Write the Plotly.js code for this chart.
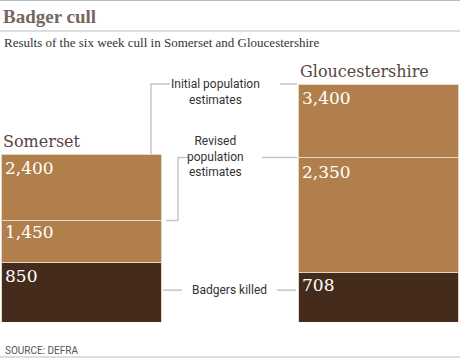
<!DOCTYPE html>
<html>
<head>
<meta charset="utf-8">
<script src="https://cdn.plot.ly/plotly-3.0.1.min.js"></script>
<style>html,body{margin:0;padding:0;background:#fff}#chart{width:460px;height:360px}</style>
</head>
<body>
<div id="chart"></div>
<script>
// ---- data ----
const regions = ["Somerset", "Gloucestershire"];
const killed = [850, 708];
const revised = [1450, 2350];
const initial = [2400, 3400];
const valueLabels = {killed: ["850", "708"], revised: ["1,450", "2,350"], initial: ["2,400", "3,400"]};
const seriesNames = ["Badgers killed", "Revised population estimates", "Initial population estimates"];

// ---- styles ----
const brown = "#b07f4c";
const dark = "#452b1c";
const edge = "#e6d6c4";
const lineGrey = "#c6c6c6";
const W = 460, plotTop = 50, plotBottom = 322;
const H = 360;
const barW = 0.542;

const segRevised = revised.map((v, i) => v - killed[i]);
const segInitial = initial.map((v, i) => v - revised[i]);

const xs = [0, 1];
function bar(y, color, name) {
  return {type: "bar", x: xs, y: y, width: barW, name: name,
    marker: {color: color, line: {color: edge, width: 1}}, hoverinfo: "skip"};
}
const traces = [
  bar(killed, dark, seriesNames[0]),
  bar(segRevised, brown, seriesNames[1]),
  bar(segInitial, brown, seriesNames[2])
];

const ann = [];
// value labels inside bars
function valAnn(i, yv, txt, ys) {
  ann.push({x: xs[i] - barW / 2, y: yv, xref: "x", yref: "y", text: txt, showarrow: false,
    xanchor: "left", yanchor: "top", xshift: 2, yshift: ys,
    font: {family: "DejaVu Serif", size: 17, color: "#ffffff"}});
}
for (let i = 0; i < 2; i++) {
  valAnn(i, initial[i], valueLabels.initial[i], -2);
  valAnn(i, revised[i], valueLabels.revised[i], i === 0 ? 1 : -2);
  valAnn(i, killed[i], valueLabels.killed[i], -1);
  ann.push({x: xs[i] - barW / 2, y: initial[i], xref: "x", yref: "y", text: regions[i], showarrow: false,
    xanchor: "left", yanchor: "bottom", xshift: 0, yshift: 1,
    font: {family: "DejaVu Serif", size: 16, color: "#56463d"}});
}
// series labels in the middle
const labFont = {family: "Roboto", size: 12, color: "#333333"};
ann.push({x: 215 / W, y: initial[1], xref: "paper", yref: "y", text: "Initial population<br>estimates",
  showarrow: false, xanchor: "center", yanchor: "top", yshift: 9, font: labFont});
ann.push({x: 215 / W, y: revised[1], xref: "paper", yref: "y", text: "Revised<br>population<br>estimates",
  showarrow: false, xanchor: "center", yanchor: "middle", yshift: 1, font: labFont});
const killedLabelY = 455;
ann.push({x: 229 / W, y: killedLabelY, xref: "paper", yref: "y", text: "Badgers killed",
  showarrow: false, xanchor: "center", yanchor: "middle", font: labFont});
// subtitle & source
ann.push({x: 2 / W, y: (plotBottom - 42) / (plotBottom - plotTop), xref: "paper", yref: "paper",
  text: "Results of the six week cull in Somerset and Gloucestershire", showarrow: false,
  xanchor: "left", yanchor: "middle", font: {family: "Liberation Serif", size: 13, color: "#333333"}});
ann.push({x: 3 / W, y: (plotBottom - 350) / (plotBottom - plotTop), xref: "paper", yref: "paper",
  text: "SOURCE: DEFRA", showarrow: false, xanchor: "left", yanchor: "middle",
  font: {family: "Roboto", size: 10, color: "#555555"}});

const ph = plotBottom - plotTop;
function py(p) { return (plotBottom - p) / ph; }
const shapes = [];
function ln(x0, y0, x1, y1, yref, col, w) {
  shapes.push({type: "line", xref: "paper", yref: yref, x0: x0 / W, x1: x1 / W, y0: y0, y1: y1,
    line: {color: col, width: w}});
}
// rules
ln(0, py(0.5), 460, py(0.5), "paper", "#bdbdbd", 1);
ln(0, py(31), 460, py(31), "paper", "#bdbdbd", 1);
ln(0, py(357), 460, py(357), "paper", "#bdbdbd", 1);
// connectors: initial
ln(151, initial[0], 151, initial[1], "y", lineGrey, 1.5);
ln(150.3, initial[1], 170, initial[1], "y", lineGrey, 1.5);
ln(280, initial[1], 297, initial[1], "y", lineGrey, 1.5);
// revised
ln(166, revised[0], 178, revised[0], "y", lineGrey, 1.5);
ln(178, revised[0], 178, revised[1], "y", lineGrey, 1.5);
ln(177.3, revised[1], 190, revised[1], "y", lineGrey, 1.5);
ln(262, revised[1], 297, revised[1], "y", lineGrey, 1.5);
// killed
ln(163, killedLabelY, 182, killedLabelY, "y", lineGrey, 1.5);
ln(277, killedLabelY, 296, killedLabelY, "y", lineGrey, 1.5);

const layout = {
  width: W, height: H,
  margin: {l: 0, r: 0, t: plotTop, b: H - plotBottom, pad: 0},
  paper_bgcolor: "#ffffff", plot_bgcolor: "#ffffff",
  barmode: "stack", showlegend: false, hovermode: false,
  title: {text: "Badger cull", x: 3 / W, xanchor: "left", xref: "paper", yref: "container",
    y: 1 - 16 / H, yanchor: "middle",
    font: {family: "Liberation Serif", size: 19, weight: 700, color: "#74675e"}},
  xaxis: {range: [-81.5 / 297, 1 + 81.5 / 297], showgrid: false, zeroline: false,
    showticklabels: false, ticks: "", fixedrange: true},
  yaxis: {range: [0, ph / 0.07], showgrid: false, zeroline: false, showticklabels: false,
    ticks: "", fixedrange: true},
  annotations: ann, shapes: shapes
};
Plotly.newPlot("chart", traces, layout, {displayModeBar: false, staticPlot: true});
</script>
</body>
</html>
